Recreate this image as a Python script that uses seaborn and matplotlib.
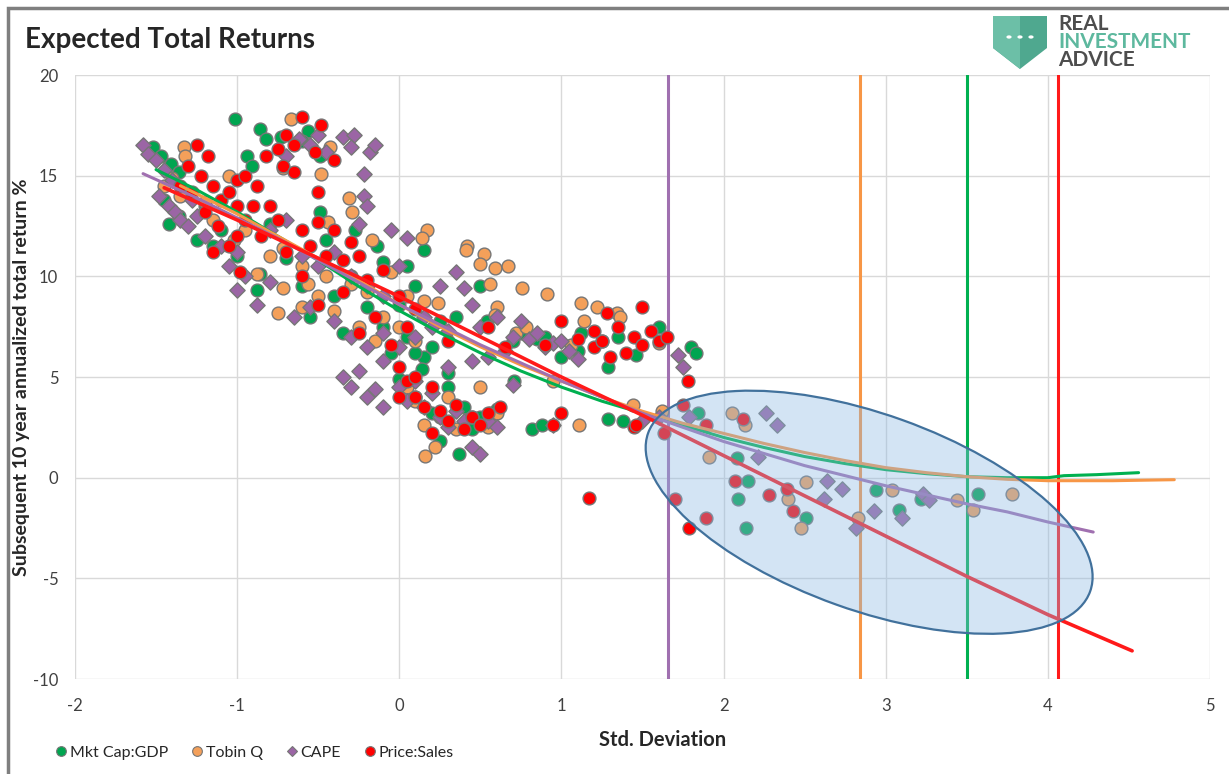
import numpy as np
import pandas as pd
import matplotlib
matplotlib.use("Agg")
import matplotlib.pyplot as plt
import seaborn as sns
from matplotlib.patches import Ellipse, Rectangle, Polygon, Circle
from matplotlib.transforms import Affine2D
from matplotlib.lines import Line2D

# --- scatter data (std. deviation, subsequent 10y return %) ---
mkt_x = [-1.52, -1.47, -1.41, -1.36, -1.45, -1.42, -1.36, -1.30, -1.25, -1.15, -1.20, -1.10, -1.00,
         -1.01, -0.86, -0.82, -0.73, -0.94, -0.91, -0.56, -0.60, -0.49,
         -0.86, -0.88, -0.60, -0.80, -0.49, -0.45, -0.70, -0.27, -0.14, -0.10, -0.55, -0.40, -0.30, -0.20,
         -0.10, 0.00, 0.05, 0.10, -0.35, 0.15, 0.20, 0.25, -0.05, 0.30,
         0.00, 0.10, 0.20, 0.30, 0.40, 0.50, 0.37, 0.56, 0.45, 0.60, 0.25,
         0.05, 0.15, 0.54, 0.35, 0.50, 0.71, 0.82, 0.88, 0.70, 0.75, 0.85, 0.90, 1.00, 0.14, 0.10,
         1.12, 1.25, 1.35, 1.46, 1.60, 1.29, 1.10, 1.80, 1.83, 1.29, 1.38,
         1.84, 2.08, 2.15, 2.09, 2.14, 2.51, 2.94, 3.08, 3.22, 3.57]
mkt_y = [16.4, 16.0, 15.6, 15.2, 13.8, 12.6, 13.0, 14.2, 11.8, 11.5, 13.5, 12.3, 11.0,
         17.8, 17.3, 16.8, 16.9, 16.0, 15.5, 17.2, 16.7, 16.0,
         10.1, 9.3, 9.5, 12.6, 13.2, 11.8, 10.9, 12.3, 11.5, 10.7, 8.0, 9.0, 10.0, 8.5,
         7.5, 8.6, 7.0, 9.5, 7.2, 6.0, 6.5, 7.8, 6.2, 5.2,
         4.9, 4.0, 3.2, 4.5, 3.5, 3.0, 1.2, 3.2, 2.4, 3.4, 1.8,
         10.5, 11.3, 7.8, 8.0, 9.5, 4.8, 2.4, 2.6, 6.8, 7.2, 6.9, 7.0, 6.0, 5.4, 6.2,
         7.2, 6.8, 7.0, 6.1, 7.5, 5.5, 6.3, 6.5, 6.2, 2.9, 2.8,
         3.2, 1.0, -0.15, -1.05, -2.5, -2.0, -0.6, -1.6, -1.05, -0.8]

tobin_x = [-1.45, -1.40, -1.35, -1.33, -1.32, -1.20, -1.15, -1.05, -1.02, -0.95, -0.88,
           -0.67, -0.72, -0.48, -0.43, -0.31, -0.44, -0.29, -0.17, -0.72, -0.56, -0.72,
           -0.80, -0.60, -0.50, -0.40, -0.30, -0.20, -0.10, 0.00, 0.10, 0.15, -0.15, -0.25, -0.60, -0.75,
           -0.45, 0.05, -0.05,
           0.05, 0.10, 0.15, 0.25, 0.35, 0.45, 0.55, 0.60, 0.22, 0.16, 0.30, 0.50,
           0.17, 0.14, 0.42, 0.41, 0.52, 0.50, 0.59, 0.67, 0.56, 0.76, 0.91, 0.60, 0.59, 0.24, 1.12, 1.22,
           1.34, 1.36, 1.14, 1.60, 0.72, 0.78, 1.06, 1.11, 0.95, 1.44,
           1.62, 2.05, 2.13, 1.91, 2.51, 2.40, 2.48, 2.83, 3.04, 3.44, 3.54, 3.78]
tobin_y = [14.5, 14.9, 14.0, 16.4, 16.0, 13.7, 12.8, 15.0, 11.8, 12.3, 10.1,
           17.8, 15.4, 15.1, 16.4, 13.9, 12.7, 13.2, 11.8, 11.4, 9.6, 9.4,
           11.0, 10.5, 9.0, 8.3, 9.6, 9.2, 8.0, 7.5, 6.8, 8.8, 6.8, 7.5, 8.5, 8.2,
           10.0, 9.0, 10.2,
           4.5, 3.8, 2.6, 3.0, 2.4, 3.0, 2.5, 3.2, 1.5, 1.1, 4.0, 4.5,
           12.3, 11.9, 11.5, 11.3, 11.1, 10.6, 10.4, 10.5, 9.6, 9.4, 9.1, 8.5, 8.1, 8.7, 8.7, 8.5,
           8.2, 8.0, 7.8, 6.7, 7.2, 7.5, 6.6, 2.6, 4.8, 3.6,
           3.3, 3.2, 2.6, 1.05, -0.2, -1.05, -2.5, -2.0, -0.6, -1.1, -1.6, -0.8]

cape_x = [-1.58, -1.55, -1.50, -1.45, -1.40, -1.48, -1.42, -1.38, -1.35, -1.30, -1.25, -1.20, -1.28,
          -1.10, -1.00, -1.00, -0.88, -1.05, -0.95, -0.80,
          -0.62, -0.55, -0.45, -0.35, -0.28, -0.30, -0.18, -0.15, -0.22, -0.25, -0.70, -0.50, -0.20, -0.22,
          -0.80, -0.70, -0.60, -0.50, -0.40, -0.30, -0.20, -0.10, -0.05, 0.05, 0.00, -0.40, -0.30, -0.20,
          -0.10, 0.00, 0.10, 0.15, -0.55, -0.65, 0.20, 0.30, 0.25, 0.35, 0.45, 0.40,
          -0.35, -0.30, -0.25, -0.20, -0.15, -0.10, 0.00, 0.05, 0.10, 0.15, 0.20, 0.25, 0.30, 0.35, 0.40,
          0.45, 0.50, 0.55, 0.60, -0.10, 0.30,
          0.50, 0.60, 0.70, 0.75, 0.80, 0.85, 0.90, 0.95, 1.00, 1.05, 1.10, 0.55, 0.65, 0.45, 0.95, 0.70,
          1.72, 1.75, 1.79, 2.26, 2.33, 2.21, 2.64, 2.73, 2.62, 2.93, 2.82, 3.10, 3.23, 3.27, 1.50, 1.60]
cape_y = [16.5, 16.1, 15.8, 15.3, 14.8, 14.0, 13.5, 13.2, 12.8, 12.5, 13.0, 12.0, 13.8,
          11.5, 11.2, 9.3, 8.6, 10.5, 10.0, 9.7,
          16.8, 16.5, 16.2, 16.9, 17.0, 16.4, 16.2, 16.5, 14.0, 12.6, 16.0, 17.0, 13.5, 15.1,
          12.3, 12.8, 11.0, 10.5, 11.2, 10.0, 9.5, 9.0, 12.3, 11.9, 10.5, 7.8, 7.0, 6.5,
          7.2, 6.5, 7.0, 8.0, 8.5, 8.0, 7.5, 7.3, 9.5, 10.2, 8.6, 9.4,
          5.0, 4.5, 5.3, 4.0, 4.4, 3.5, 4.5, 3.8, 4.8, 3.5, 4.2, 3.0, 2.5, 3.3, 2.8,
          1.5, 1.2, 2.8, 2.5, 5.8, 5.5,
          7.5, 8.0, 7.0, 7.8, 6.9, 7.2, 6.5, 6.7, 6.8, 6.3, 5.9, 6.0, 6.3, 5.8, 2.6, 4.6,
          6.1, 5.5, 3.0, 3.2, 2.6, 1.05, -0.15, -0.55, -1.05, -1.65, -2.5, -2.0, -0.8, -1.1, 2.8, 3.0]

ps_x = [-1.25, -1.18, -1.22, -1.15, -1.10, -1.05, -1.00, -1.20, -1.12, -1.00, -0.95, -0.90, -1.05,
        -0.98, -1.15, -1.30, -1.28, -1.35, -1.00, -0.95,
        -0.60, -0.70, -0.65, -0.52, -0.48, -0.72, -0.65, -0.82, -0.40, -0.50, -0.88, -0.75, -0.80,
        -0.85, -0.75, -0.70, -0.60, -0.55, -0.50, -0.45, -0.40, -0.35, -0.30, -0.25, -0.20, -0.10,
        -0.35, -0.50, -0.60, -0.15, 0.00, 0.05, -0.05, -0.25, 0.10,
        0.00, 0.05, 0.10, 0.15, 0.20, 0.25, 0.30, 0.35, 0.40, 0.45, 0.50, 0.20, 0.55, 0.10, 0.00,
        0.30, 0.55, 0.65, 0.90, 1.00, 1.10, 1.20, 1.30, 1.25, 1.35, 1.40, 1.45, 1.50, 1.55, 1.60,
        1.65, 1.50, 1.28, 1.20, 0.62, 0.95, 1.45, 1.00,
        1.75, 1.78, 1.89, 2.12, 1.63, 1.70, 1.89, 1.79, 2.07, 2.28, 2.39, 2.43, 1.46, 1.17]
ps_y = [16.5, 16.0, 15.0, 14.5, 13.8, 14.2, 13.5, 13.2, 12.5, 12.0, 12.8, 13.5, 11.5,
        10.2, 11.2, 15.5, 14.2, 14.5, 14.8, 15.0,
        17.9, 17.0, 16.5, 16.2, 17.5, 15.5, 15.2, 16.0, 15.8, 14.2, 14.5, 16.3, 13.5,
        12.0, 12.8, 11.2, 12.3, 11.5, 12.7, 11.0, 12.3, 10.8, 11.7, 11.0, 9.8, 10.3,
        9.2, 8.6, 10.0, 8.0, 9.0, 7.5, 6.6, 7.2, 8.4,
        5.5, 4.8, 4.0, 3.5, 4.5, 3.3, 2.8, 3.6, 2.4, 3.0, 2.6, 2.2, 3.2, 5.0, 4.0,
        6.8, 7.5, 6.5, 6.6, 7.8, 6.9, 6.5, 6.0, 6.8, 7.5, 6.2, 7.0, 6.6, 7.3, 6.8,
        7.0, 8.5, 8.2, 7.3, 3.5, 2.6, 2.5, 3.2,
        3.6, 4.8, 2.6, 2.9, 2.2, -1.05, -2.0, -2.5, -0.15, -0.85, -0.55, -1.65, 2.6, -1.0]

# --- trend lines ---
mkt_trend_x = [-1.5, -1.25, -1.0, -0.75, -0.5, -0.25, 0.0, 0.25, 0.5, 0.75, 1.0, 1.25, 1.5, 1.75,
               2.0, 2.25, 2.5, 2.75, 3.0, 3.25, 3.5, 3.75, 4.0, 4.1, 4.3, 4.56]
mkt_trend_y = [15.3, 14.3, 13.2, 12.0, 10.8, 9.5, 8.3, 7.2, 6.2, 5.3, 4.5, 3.8, 3.2, 2.6,
               2.0, 1.5, 1.05, 0.7, 0.4, 0.2, 0.05, 0.0, 0.0, 0.1, 0.15, 0.25]
tobin_trend_x = [-1.35, -1.25, -1.0, -0.75, -0.5, -0.25, 0.0, 0.25, 0.5, 0.75, 1.0, 1.25, 1.5, 1.75,
                 2.0, 2.25, 2.5, 2.75, 3.0, 3.25, 3.5, 3.75, 4.0, 4.4, 4.78]
tobin_trend_y = [14.5, 14.1, 13.1, 12.0, 10.9, 9.8, 8.6, 7.5, 6.5, 5.6, 4.8, 4.0, 3.3, 2.7,
                 2.2, 1.7, 1.25, 0.85, 0.5, 0.25, 0.05, -0.08, -0.15, -0.15, -0.1]
cape_trend_x = [-1.58, -1.25, -1.0, -0.75, -0.5, -0.25, 0.0, 0.25, 0.5, 0.75, 1.0, 1.25, 1.5, 1.75,
                2.0, 2.25, 2.5, 2.75, 3.0, 3.25, 3.5, 3.75, 4.0, 4.28]
cape_trend_y = [15.1, 13.9, 12.9, 11.9, 10.8, 9.7, 8.6, 7.6, 6.6, 5.7, 4.8, 4.0, 3.2, 2.5,
                1.8, 1.2, 0.6, 0.1, -0.4, -0.85, -1.3, -1.7, -2.2, -2.7]
ps_trend_x = [-1.45, -1.0, -0.5, 0.0, 0.5, 1.0, 1.5, 2.0, 2.5, 3.0, 3.5, 4.0, 4.52]
ps_trend_y = [14.4, 12.8, 10.9, 9.0, 7.0, 5.0, 3.1, 1.1, -0.9, -2.9, -4.9, -6.8, -8.6]

# current valuation levels (vertical markers), one per series
current_levels = [3.50, 2.84, 1.66, 4.06]

series_names = ["Mkt Cap:GDP", "Tobin Q", "CAPE", "Price:Sales"]
COLORS = ["#00A550", "#F4A05A", "#9B65A5", "#FF0000"]
LINE_COLORS = ["#00B050", "#F79646", "#A070B0", "#FF1A1A"]


def draw_logo(fig):
    """Rough version of the RIA shield + wordmark in the top right corner."""
    W, H = 1229, 774
    pts = [(993, 16), (1047, 16), (1047, 48), (1020, 69), (993, 48)]
    shield = Polygon([(x / W, 1 - y / H) for x, y in pts], closed=True,
                     transform=fig.transFigure, facecolor="#4FA88F", edgecolor="none")
    fig.patches.append(shield)
    half = Polygon([(x / W, 1 - y / H) for x, y in [(993, 16), (1020, 16), (1020, 69), (993, 48)]],
                   closed=True, transform=fig.transFigure, facecolor="#6CBFA7", edgecolor="none")
    fig.patches.append(half)
    for cx in (1009, 1020, 1031):
        fig.patches.append(Circle((cx / W, 1 - 37 / H), 2.6 / W, transform=fig.transFigure,
                                  facecolor="white", edgecolor="none"))
    words = [("REAL", "#4D4D4D", 24), ("INVESTMENT", "#5DB89E", 42), ("ADVICE", "#4D4D4D", 60)]
    for word, col, y in words:
        fig.text(1058 / W, 1 - y / H, word, fontsize=15, fontweight="bold", color=col,
                 va="center", ha="left")


def main():
    sns.set_style("white")
    plt.rcParams['font.family'] = ['Lato', 'DejaVu Sans']
    plt.rcParams['axes.unicode_minus'] = False

    fig = plt.figure(figsize=(12.29, 7.74), dpi=100)
    ax = fig.add_axes([0.061, 0.1227, 0.9235, 0.7804])

    xs = [mkt_x, tobin_x, cape_x, ps_x]
    ys = [mkt_y, tobin_y, cape_y, ps_y]
    markers = ["o", "o", "D", "o"]
    sizes = [85, 85, 60, 85]
    for name, x, y, m, s, c in zip(series_names, xs, ys, markers, sizes, COLORS):
        df = pd.DataFrame({"sd": x, "ret": y})
        sns.scatterplot(data=df, x="sd", y="ret", marker=m, s=s, color=c,
                        edgecolor="#767676", linewidth=1.0, ax=ax, legend=False, zorder=3)

    trends = [(mkt_trend_x, mkt_trend_y), (tobin_trend_x, tobin_trend_y),
              (cape_trend_x, cape_trend_y), (ps_trend_x, ps_trend_y)]
    widths = [2.2, 2.2, 2.2, 2.6]
    for (tx, ty), c, w in zip(trends, LINE_COLORS, widths):
        sns.lineplot(x=tx, y=ty, color=c, linewidth=w, ax=ax, zorder=4, estimator=None)

    for lvl, c in zip(current_levels, LINE_COLORS):
        ax.axvline(lvl, color=c, linewidth=2.2, zorder=2)

    ax.set_xlim(-2, 5)
    ax.set_ylim(-10, 20)
    ax.set_xticks(range(-2, 6))
    ax.set_yticks(range(-10, 21, 5))
    ax.grid(True, color="#D9D9D9", linewidth=1.0)
    ax.set_axisbelow(True)
    for sp in ax.spines.values():
        sp.set_visible(False)
    ax.tick_params(axis="x", length=0, labelsize=12, labelcolor="#404040", pad=14)
    ax.tick_params(axis="y", length=0, labelsize=12, labelcolor="#404040", pad=12)

    # highlighted region - built in an isotropic frame so the tilt matches the picture
    ratio = (0.7804 * 774 / 30) / (0.9235 * 1229 / 7)
    tr = Affine2D().scale(1, 1 / ratio) + ax.transData
    ell = Ellipse((2.898, -1.716 * ratio), width=2 * 234.7 / 162.1, height=2 * 98 / 162.1,
                  angle=-19.7, transform=tr, facecolor=(0.55, 0.72, 0.89, 0.38),
                  edgecolor="#41719C", linewidth=1.6, zorder=5)
    ax.add_patch(ell)

    ax.set_xlabel("Std. Deviation", fontsize=14.5, fontweight="bold")
    ax.xaxis.set_label_coords(0.518, -0.101)
    ax.xaxis.label.set_va("center")
    ax.set_ylabel("Subsequent 10 year annualized total return %", fontsize=14,
                  fontweight="bold")
    ax.yaxis.set_label_coords(-0.0467, 0.5)
    ax.yaxis.label.set_va("center")

    fig.text(25 / 1229, 1 - 40 / 774, "Expected Total Returns", fontsize=20,
             fontweight="bold", va="center", ha="left")

    handles = [Line2D([], [], linestyle="none", marker=("D" if i == 2 else "o"),
                      markersize=(5.5 if i == 2 else 7), markerfacecolor=c,
                      markeredgecolor="#767676", markeredgewidth=0.8)
               for i, c in enumerate(COLORS)]
    fig.legend(handles, series_names, loc="center left", bbox_to_anchor=(0.038, 1 - 753 / 774),
               ncol=4, frameon=False, fontsize=11.5, handletextpad=0.05, columnspacing=1.3,
               handlelength=1.0, borderaxespad=0)

    # outer frame of the original graphic (top and left edges)
    fig.patches.append(Rectangle((8 / 1229, -0.5), 2.0, 1.5 - 8 / 774, transform=fig.transFigure,
                                 fill=False, edgecolor="#7F7F7F", linewidth=2.5))
    draw_logo(fig)

    fig.savefig("out.png", dpi=100)
    plt.close(fig)


if __name__ == "__main__":
    main()
